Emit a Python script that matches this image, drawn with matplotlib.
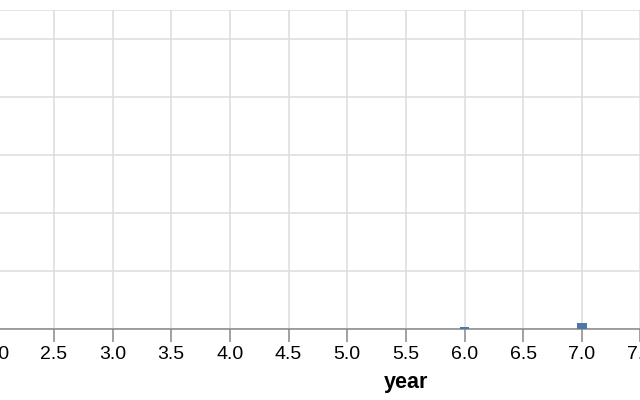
import matplotlib
matplotlib.use("Agg")
import matplotlib.pyplot as plt

# data
years = [6.0, 7.0]
counts = [0.3, 1.0]
x_ticks = [2.0, 2.5, 3.0, 3.5, 4.0, 4.5, 5.0, 5.5, 6.0, 6.5, 7.0, 7.5, 8.0, 8.5, 9.0]
y_ticks = [0, 10, 20, 30, 40, 50]

BAR = "#4c78a8"
GRID = "#dddddd"
AXIS = "#888888"

plt.rcParams["font.family"] = ["Liberation Sans", "DejaVu Sans"]

W, H = 640, 400
fig = plt.figure(figsize=(W / 100, H / 100), dpi=100)

# plot area in pixels (the chart is cropped, it runs past both sides)
left_px, right_px = -4.7, 816.4
top_px, bottom_px = 10, 329
ax = fig.add_axes([left_px / W, (H - bottom_px) / H,
                   (right_px - left_px) / W, (bottom_px - top_px) / H])

ax.bar(years, counts, width=0.081, color=BAR, zorder=5)

ax.set_xlim(2.0, 9.0)
ax.set_ylim(0, 55)
ax.set_xticks(x_ticks)
ax.set_xticklabels([f"{t:.1f}" for t in x_ticks])
ax.set_yticks(y_ticks)
ax.tick_params(axis="y", left=False, labelleft=False)
ax.tick_params(axis="x", length=9, width=1.1, color=AXIS, pad=3,
               labelsize=14, labelcolor="#000000")

ax.grid(True, color=GRID, linewidth=1.1, zorder=0)
ax.axhline(55, color=GRID, linewidth=1.1, zorder=0)
for s in ["top", "right", "left"]:
    ax.spines[s].set_visible(False)
ax.spines["bottom"].set_color(AXIS)
ax.spines["bottom"].set_linewidth(1.1)
ax.spines["bottom"].set_zorder(4)

ax.set_xlabel("year", fontsize=15.5, fontweight="bold", labelpad=7)

fig.savefig("out.png", dpi=100)
